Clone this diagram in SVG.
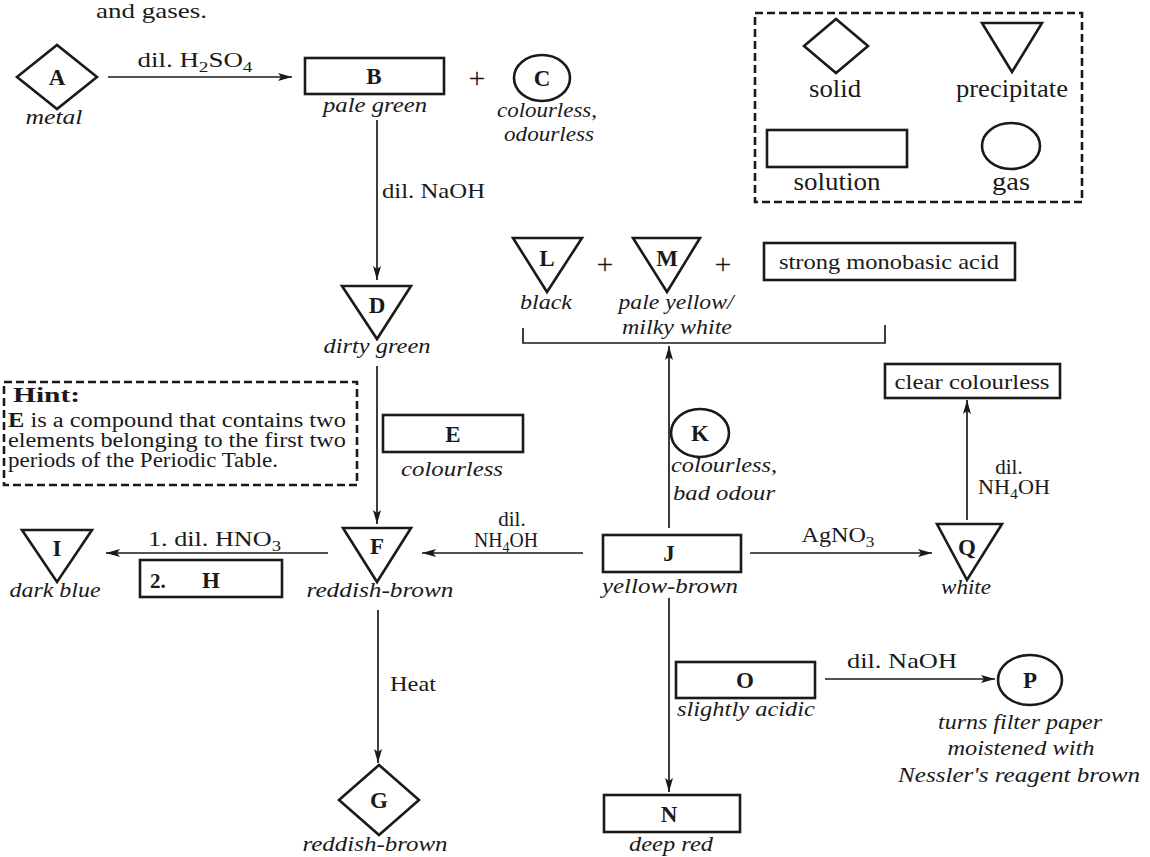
<svg xmlns="http://www.w3.org/2000/svg" width="1150" height="857" viewBox="0 0 1150 857">
<defs>
<style>
.bx{fill:none;stroke:#1a1a1a;stroke-width:2.6}
.ln{fill:none;stroke:#1a1a1a;stroke-width:1.7}
.dash{fill:none;stroke:#1a1a1a;stroke-width:2.6;stroke-dasharray:8 4}
text{font-family:"Liberation Serif","Times New Roman",serif;font-size:21px;fill:#1a1a1a}
.nd{font-weight:bold;text-anchor:middle;font-size:23px}
.it{font-style:italic}
.m{text-anchor:middle}
.lg{font-size:25px;text-anchor:middle}
.pl{font-size:30px;text-anchor:middle}
.ht{font-size:20px}
</style>
<marker id="ah" markerWidth="15" markerHeight="8" refX="14" refY="4" orient="auto" markerUnits="userSpaceOnUse">
<path d="M0,0 L14,4 L0,8 L3,4 z" fill="#1a1a1a"/>
</marker>
</defs>
<rect width="1150" height="857" fill="#ffffff"/>

<text x="96" y="18" textLength="111" lengthAdjust="spacingAndGlyphs">and gases.</text>

<g id="connectors">
<path class="ln" d="M108,77 H292" marker-end="url(#ah)"/>
<path class="ln" d="M377,120 V280" marker-end="url(#ah)"/>
<path class="ln" d="M377,366 V524" marker-end="url(#ah)"/>
<path class="ln" d="M328,553 H106" marker-end="url(#ah)"/>
<path class="ln" d="M583,553 H422" marker-end="url(#ah)"/>
<path class="ln" d="M669,528 V346" marker-end="url(#ah)"/>
<path class="ln" d="M750,553 H932" marker-end="url(#ah)"/>
<path class="ln" d="M967,520 V400" marker-end="url(#ah)"/>
<path class="ln" d="M378,610 V763" marker-end="url(#ah)"/>
<path class="ln" d="M669,598 V792" marker-end="url(#ah)"/>
<path class="ln" d="M825,679 H995" marker-end="url(#ah)"/>
<path class="ln" d="M523,328 V343 H885 V325" stroke-width="2.2"/>
<text x="195" y="67" class="m" textLength="115" lengthAdjust="spacingAndGlyphs">dil. H<tspan dy="5" font-size="15">2</tspan><tspan dy="-5">SO</tspan><tspan dy="5" font-size="15">4</tspan></text>
<text x="382" y="198" textLength="103" lengthAdjust="spacingAndGlyphs">dil. NaOH</text>
<text x="148" y="546" textLength="133" lengthAdjust="spacingAndGlyphs">1. dil. HNO<tspan dy="5" font-size="15">3</tspan></text>
<text x="512" y="526" class="m">dil.</text>
<text x="506" y="547" class="m" textLength="64" lengthAdjust="spacingAndGlyphs">NH<tspan dy="5" font-size="15">4</tspan><tspan dy="-5">OH</tspan></text>
<text x="838" y="542" class="m" textLength="73" lengthAdjust="spacingAndGlyphs">AgNO<tspan dy="5" font-size="15">3</tspan></text>
<text x="1009" y="474" class="m">dil.</text>
<text x="1014" y="494" class="m" textLength="72" lengthAdjust="spacingAndGlyphs">NH<tspan dy="5" font-size="15">4</tspan><tspan dy="-5">OH</tspan></text>
<text x="390" y="691" textLength="46" lengthAdjust="spacingAndGlyphs">Heat</text>
<text x="847" y="668" textLength="110" lengthAdjust="spacingAndGlyphs">dil. NaOH</text>
</g>

<g id="node-A">
<polygon class="bx" points="17,77 57,45 97,77 57,109"/>
<text x="57" y="85" class="nd">A</text>
<text x="54" y="124" class="it m" textLength="57" lengthAdjust="spacingAndGlyphs">metal</text>
</g>

<g id="node-B">
<rect class="bx" x="305" y="58" width="139" height="36"/>
<text x="374" y="84" class="nd">B</text>
<text x="375" y="112" class="it m" textLength="104" lengthAdjust="spacingAndGlyphs">pale green</text>
</g>

<text x="477" y="88" class="pl">+</text>

<g id="node-C">
<ellipse class="bx" cx="542" cy="78" rx="28" ry="23"/>
<text x="542" y="86" class="nd">C</text>
<text x="547" y="117" class="it m" textLength="100" lengthAdjust="spacingAndGlyphs">colourless,</text>
<text x="549" y="141" class="it m" textLength="90" lengthAdjust="spacingAndGlyphs">odourless</text>
</g>

<g id="legend">
<rect class="dash" x="755" y="13" width="327" height="189"/>
<polygon class="bx" points="804,46 836,19 868,46 836,73"/>
<text x="835" y="97" class="lg" textLength="52" lengthAdjust="spacingAndGlyphs">solid</text>
<polygon class="bx" points="982,23 1042,23 1012,72"/>
<text x="1012" y="97" class="lg" textLength="112" lengthAdjust="spacingAndGlyphs">precipitate</text>
<rect class="bx" x="767" y="130" width="140" height="37"/>
<text x="837" y="190" class="lg" textLength="87" lengthAdjust="spacingAndGlyphs">solution</text>
<ellipse class="bx" cx="1011" cy="146" rx="29" ry="23"/>
<text x="1011" y="190" class="lg" textLength="38" lengthAdjust="spacingAndGlyphs">gas</text>
</g>

<g id="node-D">
<polygon class="bx" points="342,286 411,286 377,339"/>
<text x="377" y="313" class="nd">D</text>
<text x="377" y="353" class="it m" textLength="107" lengthAdjust="spacingAndGlyphs">dirty green</text>
</g>

<g id="node-L">
<polygon class="bx" points="513,238 582,238 547,292"/>
<text x="547" y="266" class="nd">L</text>
<text x="546" y="309" class="it m" textLength="52" lengthAdjust="spacingAndGlyphs">black</text>
</g>

<text x="605" y="274" class="pl">+</text>

<g id="node-M">
<polygon class="bx" points="633,238 700,238 667,292"/>
<text x="667" y="266" class="nd">M</text>
<text x="676" y="309" class="it m" textLength="115" lengthAdjust="spacingAndGlyphs">pale yellow/</text>
<text x="677" y="334" class="it m" textLength="110" lengthAdjust="spacingAndGlyphs">milky white</text>
</g>

<text x="723" y="274" class="pl">+</text>

<g id="node-acid">
<rect class="bx" x="764" y="243" width="251" height="37"/>
<text x="889" y="269" class="m" font-size="22" textLength="220" lengthAdjust="spacingAndGlyphs">strong monobasic acid</text>
</g>

<g id="hint">
<rect class="dash" x="4" y="382" width="353" height="103"/>
<text x="13" y="402" class="ht" font-weight="bold" textLength="67" lengthAdjust="spacingAndGlyphs">Hint:</text>
<text x="8" y="427" class="ht" textLength="338" lengthAdjust="spacingAndGlyphs"><tspan font-weight="bold">E</tspan> is a compound that contains two</text>
<text x="8" y="447" class="ht" textLength="338" lengthAdjust="spacingAndGlyphs">elements belonging to the first two</text>
<text x="8" y="467" class="ht" textLength="270" lengthAdjust="spacingAndGlyphs">periods of the Periodic Table.</text>
</g>

<g id="node-E">
<rect class="bx" x="383" y="415" width="140" height="37"/>
<text x="453" y="442" class="nd">E</text>
<text x="452" y="476" class="it m" textLength="102" lengthAdjust="spacingAndGlyphs">colourless</text>
</g>

<g id="node-clear">
<rect class="bx" x="885" y="364" width="175" height="34"/>
<text x="972" y="389" class="m" textLength="155" lengthAdjust="spacingAndGlyphs">clear colourless</text>
</g>

<g id="node-K">
<ellipse class="bx" cx="700" cy="433" rx="29" ry="24"/>
<text x="700" y="441" class="nd">K</text>
<text x="671" y="472" class="it" textLength="106" lengthAdjust="spacingAndGlyphs">colourless,</text>
<text x="673" y="500" class="it" textLength="102" lengthAdjust="spacingAndGlyphs">bad odour</text>
</g>

<g id="node-I">
<polygon class="bx" points="22,530 92,530 57,582"/>
<text x="57" y="556" class="nd">I</text>
<text x="55" y="597" class="it m" textLength="91" lengthAdjust="spacingAndGlyphs">dark blue</text>
</g>

<g id="node-H">
<rect class="bx" x="140" y="560" width="142" height="37"/>
<text x="150" y="588" font-weight="bold" font-size="22">2.</text>
<text x="211" y="588" class="nd">H</text>
</g>

<g id="node-F">
<polygon class="bx" points="343,528 411,528 377,582"/>
<text x="377" y="554" class="nd">F</text>
<text x="380" y="597" class="it m" textLength="147" lengthAdjust="spacingAndGlyphs">reddish-brown</text>
</g>

<g id="node-J">
<rect class="bx" x="603" y="535" width="138" height="37"/>
<text x="669" y="561" class="nd">J</text>
<text x="670" y="593" class="it m" textLength="136" lengthAdjust="spacingAndGlyphs">yellow-brown</text>
</g>

<g id="node-Q">
<polygon class="bx" points="937,524 1002,524 967,580"/>
<text x="967" y="555" class="nd">Q</text>
<text x="966" y="594" class="it m" textLength="50" lengthAdjust="spacingAndGlyphs">white</text>
</g>

<g id="node-O">
<rect class="bx" x="676" y="662" width="139" height="36"/>
<text x="745" y="688" class="nd">O</text>
<text x="746" y="716" class="it m" textLength="138" lengthAdjust="spacingAndGlyphs">slightly acidic</text>
</g>

<g id="node-P">
<ellipse class="bx" cx="1030" cy="680" rx="32" ry="25"/>
<text x="1030" y="688" class="nd">P</text>
<text x="1020" y="729" class="it m" textLength="164" lengthAdjust="spacingAndGlyphs">turns filter paper</text>
<text x="1021" y="755" class="it m" textLength="147" lengthAdjust="spacingAndGlyphs">moistened with</text>
<text x="1019" y="782" class="it m" textLength="242" lengthAdjust="spacingAndGlyphs">Nessler's reagent brown</text>
</g>

<g id="node-G">
<polygon class="bx" points="339,800 379,765 419,800 379,835"/>
<text x="379" y="808" class="nd">G</text>
<text x="375" y="851" class="it m" textLength="145" lengthAdjust="spacingAndGlyphs">reddish-brown</text>
</g>

<g id="node-N">
<rect class="bx" x="604" y="795" width="136" height="37"/>
<text x="669" y="822" class="nd">N</text>
<text x="671" y="851" class="it m" textLength="84" lengthAdjust="spacingAndGlyphs">deep red</text>
</g>
</svg>
